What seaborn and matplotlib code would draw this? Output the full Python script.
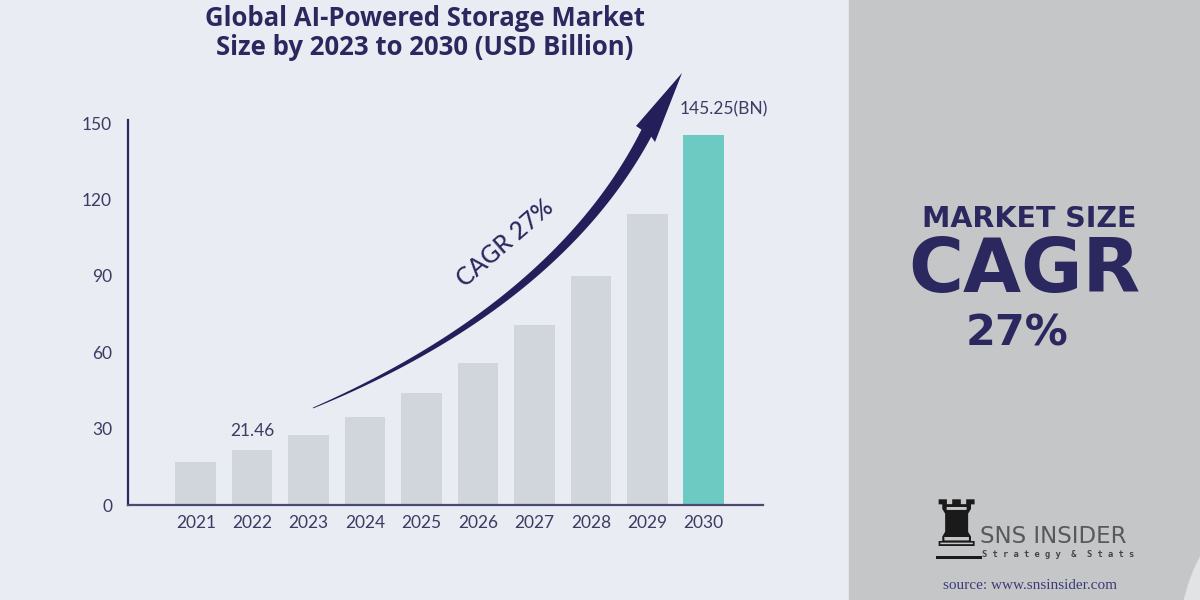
import numpy as np
import pandas as pd
import seaborn as sns
import matplotlib.pyplot as plt
from matplotlib.patches import Rectangle, Polygon, Ellipse

# Data
years = ["2021", "2022", "2023", "2024", "2025", "2026", "2027", "2028", "2029", "2030"]
values = [17.0, 21.46, 27.3, 34.5, 44.0, 55.8, 70.7, 89.9, 114.3, 145.25]
y_ticks = [0, 30, 60, 90, 120, 150]

navy = "#2b275f"
tick_col = "#3c3b63"
left_bg = "#e9ecf2"
right_bg = "#c5c6c8"
bar_grey = "#d1d6dd"
teal = "#6ccac3"

sns.set_theme(style="white")
plt.rcParams["font.family"] = ["Lato", "DejaVu Sans"]

fig = plt.figure(figsize=(12, 6), dpi=100, facecolor=left_bg)

# right grey panel
fig.patches.append(Rectangle((849 / 1200, 0), 1 - 849 / 1200, 1,
                             transform=fig.transFigure, color=right_bg, zorder=0))

# main bar axes
ax = fig.add_axes([128 / 1200, 1 - 505 / 600, (763 - 128) / 1200, (505 - 120) / 600])
ax.set_facecolor("none")

df = pd.DataFrame({"year": years, "value": values})
colors = [bar_grey] * (len(years) - 1) + [teal]
sns.barplot(data=df, x="year", y="value", hue="year", palette=colors,
            legend=False, width=0.72, saturation=1, linewidth=0, ax=ax)

ax.set_xlim(-1.2, 10.05)
ax.set_ylim(0, 151.2)
ax.set_yticks(y_ticks)
ax.set_xlabel("")
ax.set_ylabel("")
sns.despine(ax=ax)
ax.spines["left"].set_color(navy)
ax.spines["left"].set_linewidth(1.6)
ax.spines["bottom"].set_color("#4b4872")
ax.spines["bottom"].set_linewidth(1.6)
ax.tick_params(axis="y", length=0, pad=11.5, labelsize=12.5, labelcolor=tick_col)
ax.tick_params(axis="x", length=0, pad=7, labelsize=12.5, labelcolor=tick_col)

# value labels on 2022 and 2030
ax.text(1, values[1] + 4.5, f"{values[1]:.2f}", ha="center", va="bottom",
        fontsize=12.5, color=tick_col)
ax.text(9.35, values[-1] + 7, f"{values[-1]:.2f}(BN)", ha="center", va="bottom",
        fontsize=12.5, color=tick_col)

# overlay in pixel coordinates for decorations
ov = fig.add_axes([0, 0, 1, 1], zorder=5)
ov.set_xlim(0, 1200)
ov.set_ylim(600, 0)
ov.axis("off")
ov.set_facecolor("none")

# soft light swoosh at bottom right corner
ov.add_patch(Ellipse((1330, 640), 300, 330, color="#e2e3e5", zorder=1))

# curved CAGR arrow
t = np.linspace(0, 1, 300)
p0, p1, p2, p3 = map(np.array, [(313, 408), (450, 350), (580, 262), (647, 132)])
pts = ((1 - t) ** 3)[:, None] * p0 + (3 * (1 - t) ** 2 * t)[:, None] * p1 \
    + (3 * (1 - t) * t ** 2)[:, None] * p2 + (t ** 3)[:, None] * p3
d = (3 * (1 - t) ** 2)[:, None] * (p1 - p0) + (6 * (1 - t) * t)[:, None] * (p2 - p1) \
    + (3 * t ** 2)[:, None] * (p3 - p2)
d = d / np.linalg.norm(d, axis=1)[:, None]
nrm = np.column_stack([-d[:, 1], d[:, 0]])
w = 0.4 + 5.6 * t ** 0.9
shaft = np.vstack([pts + nrm * w[:, None], (pts - nrm * w[:, None])[::-1]])
ov.add_patch(Polygon(shaft, closed=True, color="#241f5a", lw=0, zorder=3))
ov.add_patch(Polygon([(636, 126), (682, 73), (655, 142), (650, 135), (642, 130)],
                     closed=True, color="#241f5a", lw=0, zorder=3))
ov.text(505, 243, "CAGR 27%", rotation=41, ha="center", va="center",
        fontsize=17.5, color=navy, fontweight="medium", zorder=4)

# title
title_font = ["Open Sans", "DejaVu Sans"]
ov.text(425, 26, "Global AI-Powered Storage Market", ha="center", va="baseline",
        fontsize=18.5, fontweight="bold", color=navy, family=title_font, zorder=4)
ov.text(425, 55, "Size by 2023 to 2030 (USD Billion)", ha="center", va="baseline",
        fontsize=18.5, fontweight="bold", color=navy, family=title_font, zorder=4)

# right panel headline
head_font = ["DejaVu Sans"]
ov.text(1029, 227, "MARKET SIZE", ha="center", va="baseline", fontsize=20.5,
        fontweight="bold", color=navy, family=head_font, zorder=4)
ov.text(1024, 292, "CAGR", ha="center", va="baseline", fontsize=54,
        fontweight="bold", color=navy, family=head_font, zorder=4)
ov.text(1017, 345, "27%", ha="center", va="baseline", fontsize=31,
        fontweight="bold", color=navy, family=head_font, zorder=4)

# logo and source
ov.text(956, 528, "\u265c", ha="center", va="center", fontsize=46, color="#1a1a1a",
        family=["DejaVu Sans"], zorder=4)
ov.add_patch(Rectangle((936, 556), 46, 2.5, color="#1a1a1a", lw=0, zorder=4))
ov.text(980, 543, "SNS INSIDER", ha="left", va="baseline", fontsize=16.5, color="#58595b",
        family=["Liberation Sans Narrow", "DejaVu Sans Condensed", "DejaVu Sans"], zorder=4)
ov.text(982, 557, "S t r a t e g y  &  S t a t s", ha="left", va="baseline",
        fontsize=6.3, color="#444444", family=["DejaVu Sans Mono"], fontweight="bold",
        zorder=4)
ov.text(1030, 589, "source: www.snsinsider.com", ha="center", va="baseline",
        fontsize=11, color="#3b3a78", family=["Liberation Serif", "DejaVu Serif"], zorder=4)

fig.savefig("out.png", dpi=100, facecolor=left_bg)
